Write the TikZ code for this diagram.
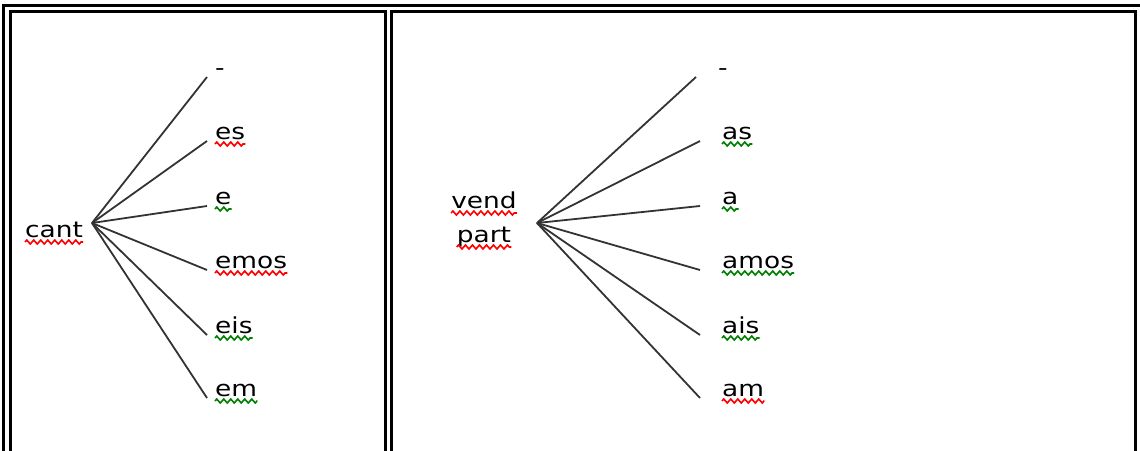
\documentclass[tikz,border=0pt]{standalone}
\usepackage{fontspec}
\setmainfont[FakeStretch=1.2]{DejaVu Sans}
\usetikzlibrary{decorations.pathmorphing}
\begin{document}
\begin{tikzpicture}[x=1pt,y=-1pt,
  frame/.style={line width=3.3pt},
  fan/.style={line width=1.8pt, black!80},
  word/.style={inner sep=0pt, anchor=base west, font=\fontsize{22}{26}\selectfont},
  stemw/.style={inner sep=0pt, anchor=base, font=\fontsize{22}{26}\selectfont},
  sqbase/.style={line width=1.6pt, decorate, decoration={zigzag, segment length=7pt, amplitude=2pt}},
  sqr/.style={sqbase, red},
  sqg/.style={sqbase, green!50!black}]
\useasboundingbox (0,0) rectangle (1140,450);
\begin{scope}
\clip (0,0) rectangle (1140,450);
\draw[frame] (3.5,5.5) rectangle (1150,460);
\draw[frame] (10.5,11.5) rectangle (385.5,460);
\draw[frame] (391.5,11.5) rectangle (1135.5,460);
\end{scope}
% left cell
\node[word] (cant) at (25,237) {cant};
\coordinate (L) at (92,223);
\node[word] (l1) at (215,75) {-};
\node[word] (l2) at (215,139) {es};
\node[word] (l3) at (215,204) {e};
\node[word] (l4) at (215,268) {emos};
\node[word] (l5) at (215,333) {eis};
\node[word] (l6) at (215,396) {em};
\foreach \n in {l1,l2,l3,l4,l5,l6}
  \draw[fan] (L) -- ([xshift=-8pt,yshift=-2pt]\n.base west);
% right cell
\node[stemw] (vend) at (484,208) {vend};
\node[stemw] (part) at (484,242) {part};
\coordinate (R) at (537,223);
\node[word] (r1) at (718,75) {-};
\node[word] (r2) at (722,139) {as};
\node[word] (r3) at (722,204) {a};
\node[word] (r4) at (722,268) {amos};
\node[word] (r5) at (722,333) {ais};
\node[word] (r6) at (722,396) {am};
\foreach \n in {r1,r2,r3,r4,r5,r6}
  \draw[fan] (R) -- ([xshift=-22pt,yshift=-2pt]\n.base west);
% spelling squiggles
\foreach \n in {cant,l2,l4,vend,part,r6}
  \draw[sqr] ([yshift=-5pt]\n.base west) -- ([yshift=-5pt]\n.base east);
\foreach \n in {l3,l5,l6,r2,r3,r4,r5}
  \draw[sqg] ([yshift=-5pt]\n.base west) -- ([yshift=-5pt]\n.base east);
\end{tikzpicture}
\end{document}
